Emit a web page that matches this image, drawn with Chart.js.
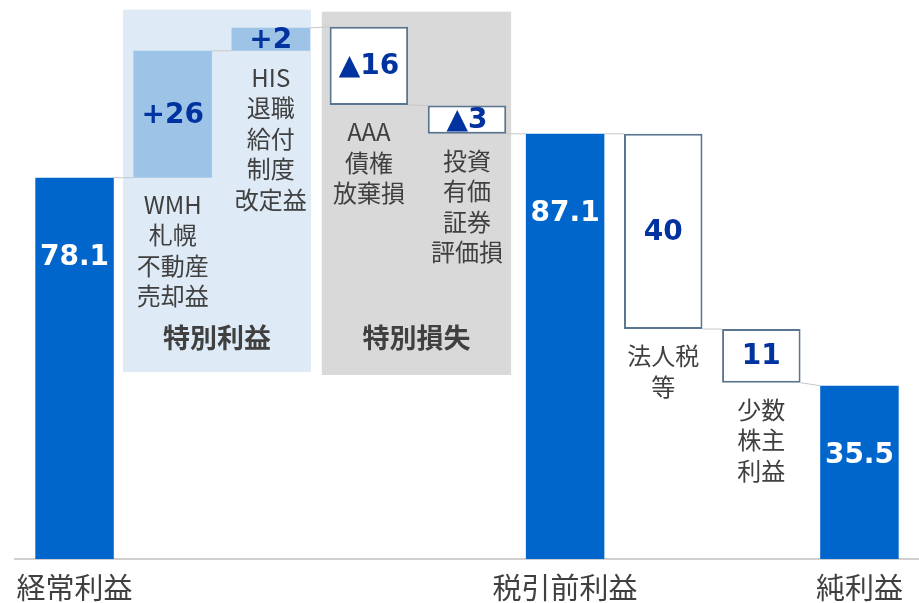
<!DOCTYPE html>
<html><head><meta charset="utf-8">
<script src="https://cdn.jsdelivr.net/npm/chart.js@4"></script>
<style>html,body{margin:0;padding:0;background:#fff}canvas{display:block}</style>
</head><body>
<canvas id="c" width="919" height="603"></canvas>
<script>
// ---- data ----
const categories = ['経常利益', '', '', '', '', '税引前利益', '', '', '純利益'];
const barLow  = [0,    78.1, 104.1, 93.0,  87.1, 0,    47.1, 36.1, 0];
const barHigh = [78.1, 104.1, 108.8, 109.0, 92.9, 87.1, 87.1, 47.1, 35.5];
const kinds = ['total', 'gain', 'gain', 'loss', 'loss', 'total', 'loss', 'loss', 'total'];
const valueLabels = ['78.1', '+26', '+2', '▲16', '▲3', '87.1', '40', '11', '35.5'];
const subLabels = [
  [],
  ['WMH', '札幌', '不動産', '売却益'],
  ['HIS', '退職', '給付', '制度', '改定益'],
  ['AAA', '債権', '放棄損'],
  ['投資', '有価', '証券', '評価損'],
  [],
  ['法人税', '等'],
  ['少数', '株主', '利益'],
  []
];
const groupLabels = ['特別利益', '特別損失'];

// ---- style ----
const fills   = { total: '#0066CC', gain: '#9DC3E6', loss: '#FFFFFF' };
const borders = { total: '#0066CC', gain: '#9DC3E6', loss: '#5B7590' };
const groupBoxes = [
  { x0: 0.494, x1: 2.41, y0: 38.3, y1: 112.5, color: '#DEEAF6' },
  { x0: 2.52, x1: 4.45, y0: 37.7, y1: 112.1, color: '#D9D9D9' }
];
const groupLabelY = 338;
const totalLabelDrop = [80, 0, 0, 0, 0, 80, 0, 0, 70];
const CJK = '"Noto Sans CJK JP", "Noto Sans", sans-serif';
const NUM = '"DejaVu Sans", Verdana, sans-serif';

function flowStart(i) { return kinds[i] === 'gain' ? barLow[i] : barHigh[i]; }
function flowEnd(i) { return kinds[i] === 'loss' ? barLow[i] : barHigh[i]; }

const deco = {
  id: 'deco',
  beforeDatasetsDraw(chart) {
    const { ctx, scales: { x, y } } = chart;
    const p0 = x.getPixelForValue(0), step = x.getPixelForValue(1) - p0;
    const px = v => p0 + v * step;
    ctx.save();
    groupBoxes.forEach(b => {
      ctx.fillStyle = b.color;
      const l = px(b.x0), r = px(b.x1), t = y.getPixelForValue(b.y1), bo = y.getPixelForValue(b.y0);
      ctx.fillRect(l, t, r - l, bo - t);
    });
    const y0 = y.getPixelForValue(0);
    ctx.strokeStyle = '#C0C0C0';
    ctx.lineWidth = 1.5;
    ctx.beginPath(); ctx.moveTo(14, y0); ctx.lineTo(chart.width, y0); ctx.stroke();
    const meta = chart.getDatasetMeta(0);
    ctx.strokeStyle = '#C8C8C8';
    ctx.lineWidth = 1;
    for (let i = 0; i < meta.data.length - 1; i++) {
      const a = meta.data[i], b = meta.data[i + 1];
      ctx.beginPath();
      ctx.moveTo(a.x + a.width / 2, y.getPixelForValue(flowEnd(i)));
      ctx.lineTo(b.x - b.width / 2, y.getPixelForValue(flowStart(i + 1)));
      ctx.stroke();
    }
    ctx.restore();
  },
  afterDatasetsDraw(chart) {
    const { ctx, scales: { x, y } } = chart;
    const meta = chart.getDatasetMeta(0);
    const p0 = x.getPixelForValue(0), step = x.getPixelForValue(1) - p0;
    const px = v => p0 + v * step;
    ctx.save();
    ctx.textAlign = 'center';
    ctx.textBaseline = 'middle';
    meta.data.forEach((bar, i) => {
      const top = Math.min(bar.y, bar.base), bot = Math.max(bar.y, bar.base);
      ctx.font = 'bold 28px ' + NUM;
      if (kinds[i] === 'total') {
        ctx.fillStyle = '#FFFFFF';
        ctx.fillText(valueLabels[i], bar.x, top + totalLabelDrop[i]);
      } else {
        ctx.fillStyle = '#0033A0';
        ctx.fillText(valueLabels[i], bar.x, (top + bot) / 2 + 1);
      }
      ctx.fillStyle = '#404040';
      ctx.font = '24px ' + CJK;
      subLabels[i].forEach((s, k) => {
        ctx.fillText(s, bar.x, bot + 27 + k * 30.5);
      });
    });
    ctx.fillStyle = '#404040';
    ctx.font = 'bold 27px ' + CJK;
    groupBoxes.forEach((b, k) => {
      ctx.fillText(groupLabels[k], (px(b.x0) + px(b.x1)) / 2, groupLabelY);
    });
    ctx.restore();
  }
};

new Chart(document.getElementById('c'), {
  type: 'bar',
  data: {
    labels: categories,
    datasets: [{
      data: barLow.map((lo, i) => [lo, barHigh[i]]),
      backgroundColor: kinds.map(k => fills[k]),
      borderColor: kinds.map(k => borders[k]),
      borderWidth: kinds.map(k => k === 'loss' ? 2 : 0),
      borderSkipped: false,
      categoryPercentage: 1,
      barPercentage: 0.8
    }]
  },
  options: {
    responsive: false,
    animation: false,
    events: [],
    layout: { padding: { left: 25.5, right: 10.5, top: 0, bottom: 0 } },
    plugins: { legend: { display: false }, tooltip: { enabled: false } },
    scales: {
      x: {
        grid: { display: false, drawTicks: false },
        border: { display: false },
        ticks: { color: '#404040', font: { family: CJK, size: 29, lineHeight: 1 }, padding: 14, maxRotation: 0, autoSkip: false },
        afterFit: s => { s.height = 44; }
      },
      y: { display: false, min: 0, max: 114.5 }
    }
  },
  plugins: [deco]
});
</script>
</body></html>
